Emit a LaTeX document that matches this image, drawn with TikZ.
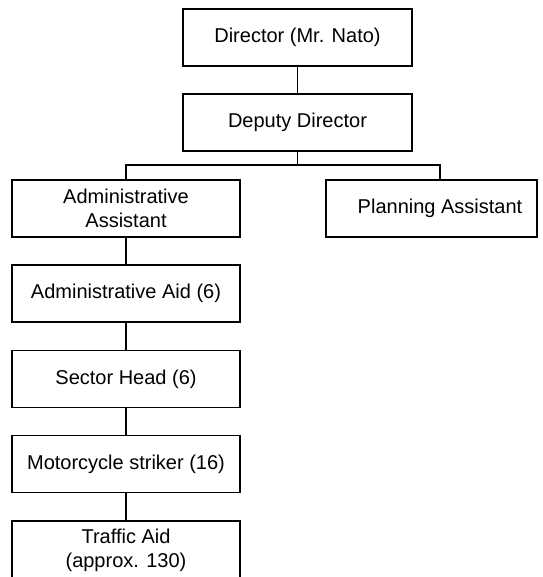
\documentclass[tikz,border=0pt]{standalone}
\usepackage{fontspec}
\setmainfont{Liberation Sans}
\begin{document}
\begin{tikzpicture}[x=1pt,y=-1pt,
  box/.style={draw=black, line width=1.2pt, inner sep=0pt, align=center,
    minimum height=57pt, font=\fontsize{20}{24}\selectfont},
  wide/.style={box, minimum width=229pt},
  col/.style={box, minimum width=228pt},
  link/.style={draw=black, line width=1.2pt}]
\clip (0,0) rectangle (542,577);
\fill[white] (0,0) rectangle (542,577);
\node[wide] (dir) at (297.5,37.5) {Director (Mr. Nato)};
\node[wide] (dep) at (297.5,122.5) {Deputy Director};
\node[col] (aa) at (126,208.5) {Administrative\\Assistant};
\node[box, minimum width=211pt] (pa) at (431.5,208.5) {\hspace*{17pt}Planning Assistant};
\node[col] (aid) at (126,293.5) {Administrative Aid (6)};
\node[col] (sh) at (126,379) {Sector Head (6)};
\node[col] (ms) at (126,464) {Motorcycle striker (16)};
\node[col, minimum height=58pt] (ta) at (126,550) {Traffic Aid\\(approx. 130)};
\coordinate (busR) at (440,165);
\draw[link] (dir.south) -- (dep.north);
\draw[link] (dep.south) -- (dep.south |- busR);
\draw[link] (aa.north) -- (aa.north |- busR) -- (busR) -- (busR |- pa.north);
\draw[link] (aa.south) -- (aid.north);
\draw[link] (aid.south) -- (sh.north);
\draw[link] (sh.south) -- (ms.north);
\draw[link] (ms.south) -- (ta.north);
\end{tikzpicture}
\end{document}
